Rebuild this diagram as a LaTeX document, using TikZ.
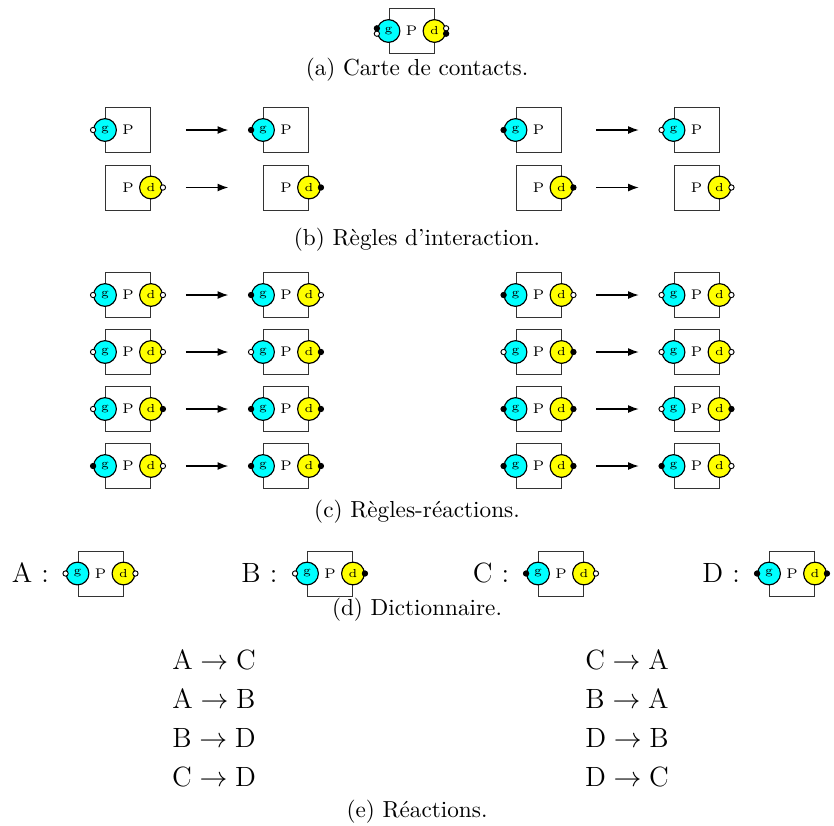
\documentclass[tikz,border=0pt]{standalone}
\usepackage{amsmath,amssymb}
\usepackage{tikz}
\usetikzlibrary{arrows.meta}

\definecolor{gcyan}{RGB}{0,255,255}
\definecolor{dyellow}{RGB}{255,255,0}

\tikzset{
  agentbox/.style={draw=black!80, line width=0.4pt, minimum size=19.4pt, inner sep=0pt, font=\fontsize{6}{7}\selectfont},
  gsite/.style={circle, draw, line width=0.5pt, fill=gcyan, minimum size=9.8pt, inner sep=0pt, font=\fontsize{5}{6}\selectfont},
  dsite/.style={gsite, fill=dyellow},
  portfree/.style={circle, draw, line width=0.4pt, fill=white, minimum size=2.3pt, inner sep=0pt},
  portbound/.style={portfree, fill=black},
  reac/.style={-{Latex[length=4.6pt,width=3.4pt]}, line width=0.5pt, shorten <=15pt, shorten >=15pt},
  subcap/.style={anchor=base, inner sep=0pt},
  dictlabel/.style={anchor=base west, inner sep=0pt, font=\large},
  reaction/.style={anchor=base, inner sep=0pt, font=\large},
}

\newcommand{\agent}[2]{\node[agentbox] (#1) at (#2) {P};}
\newcommand{\gsite}[2]{\node[gsite] (#1g) at (#1.west) {g}; \node[#2] (#1gp) at (#1g.west) {};}
\newcommand{\dsite}[2]{\node[dsite] (#1d) at (#1.east) {d}; \node[#2] (#1dp) at (#1d.east) {};}
\newcommand{\fullagent}[4]{\agent{#1}{#2}\gsite{#1}{#3}\dsite{#1}{#4}}

\begin{document}
\begin{tikzpicture}[x=0.431pt, y=-0.431pt]
    \useasboundingbox (0,0) rectangle (834,825);

    % (a) contact map
    \agent{a}{411.5,31}
    \node[gsite] (ag) at (a.west) {g};
    \node[portfree] (agp1) at (ag.193) {};
    \node[portbound] (agp2) at (ag.167) {};
    \node[dsite] (ad) at (a.east) {d};
    \node[portfree] (adp1) at (ad.13) {};
    \node[portbound] (adp2) at (ad.-13) {};
    \node[subcap] (capa) at (417,75) {(a) Carte de contacts.};

    % (b) interaction rules
    \agent{b1l}{128,130} \gsite{b1l}{portfree}
    \agent{b1r}{286,130} \gsite{b1r}{portbound}
    \draw[reac] (b1l) -- (b1r);
    \agent{b2l}{128,187.5} \dsite{b2l}{portfree}
    \agent{b2r}{286,187.5} \dsite{b2r}{portbound}
    \draw[reac] (b2l) -- (b2r);
    \agent{b3l}{538.5,130} \gsite{b3l}{portbound}
    \agent{b3r}{696.5,130} \gsite{b3r}{portfree}
    \draw[reac] (b3l) -- (b3r);
    \agent{b4l}{538.5,187.5} \dsite{b4l}{portbound}
    \agent{b4r}{696.5,187.5} \dsite{b4r}{portfree}
    \draw[reac] (b4l) -- (b4r);
    \node[subcap] (capb) at (417,245) {(b) Règles d'interaction.};

    % (c) rule reactions
    \fullagent{c1l}{128,295}{portfree}{portfree}
    \fullagent{c1r}{286,295}{portbound}{portfree}
    \draw[reac] (c1l) -- (c1r);
    \fullagent{c2l}{128,352}{portfree}{portfree}
    \fullagent{c2r}{286,352}{portfree}{portbound}
    \draw[reac] (c2l) -- (c2r);
    \fullagent{c3l}{128,409}{portfree}{portbound}
    \fullagent{c3r}{286,409}{portbound}{portbound}
    \draw[reac] (c3l) -- (c3r);
    \fullagent{c4l}{128,466}{portbound}{portfree}
    \fullagent{c4r}{286,466}{portbound}{portbound}
    \draw[reac] (c4l) -- (c4r);
    \fullagent{c5l}{538.5,295}{portbound}{portfree}
    \fullagent{c5r}{696.5,295}{portfree}{portfree}
    \draw[reac] (c5l) -- (c5r);
    \fullagent{c6l}{538.5,352}{portfree}{portbound}
    \fullagent{c6r}{696.5,352}{portfree}{portfree}
    \draw[reac] (c6l) -- (c6r);
    \fullagent{c7l}{538.5,409}{portbound}{portbound}
    \fullagent{c7r}{696.5,409}{portfree}{portbound}
    \draw[reac] (c7l) -- (c7r);
    \fullagent{c8l}{538.5,466}{portbound}{portbound}
    \fullagent{c8r}{696.5,466}{portbound}{portfree}
    \draw[reac] (c8l) -- (c8r);
    \node[subcap] (capc) at (417,517) {(c) Règles-réactions.};

    % (d) dictionary
    \node[dictlabel] (labA) at (11.5,582.7) {A :};
    \fullagent{dA}{100.5,573.5}{portfree}{portfree}
    \node[dictlabel] (labB) at (241,582.7) {B :};
    \fullagent{dB}{330,573.5}{portfree}{portbound}
    \node[dictlabel] (labC) at (472.5,582.7) {C :};
    \fullagent{dC}{561,573.5}{portbound}{portfree}
    \node[dictlabel] (labD) at (702,582.7) {D :};
    \fullagent{dD}{792,573.5}{portbound}{portbound}
    \node[subcap] (capd) at (417,615) {(d) Dictionnaire.};

    % (e) reactions
    \node[reaction] (e1) at (214,669) {$\mathrm{A} \rightarrow \mathrm{C}$};
    \node[reaction] (e2) at (214,708) {$\mathrm{A} \rightarrow \mathrm{B}$};
    \node[reaction] (e3) at (214,747) {$\mathrm{B} \rightarrow \mathrm{D}$};
    \node[reaction] (e4) at (214,786) {$\mathrm{C} \rightarrow \mathrm{D}$};
    \node[reaction] (e5) at (627,669) {$\mathrm{C} \rightarrow \mathrm{A}$};
    \node[reaction] (e6) at (627,708) {$\mathrm{B} \rightarrow \mathrm{A}$};
    \node[reaction] (e7) at (627,747) {$\mathrm{D} \rightarrow \mathrm{B}$};
    \node[reaction] (e8) at (627,786) {$\mathrm{D} \rightarrow \mathrm{C}$};
    \node[subcap] (cape) at (417,817) {(e) Réactions.};
  \end{tikzpicture}
\end{document}
